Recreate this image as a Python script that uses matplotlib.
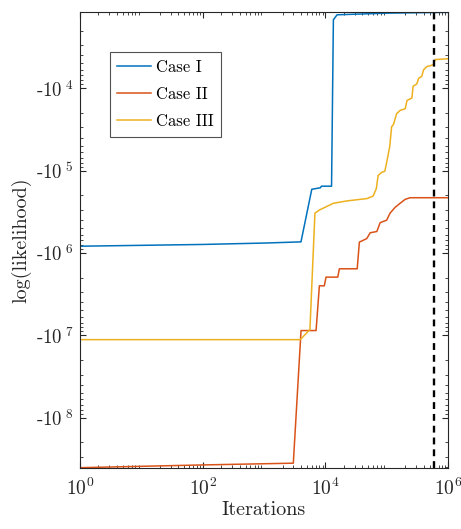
import numpy as np
import matplotlib
matplotlib.use("Agg")
import matplotlib.pyplot as plt
from matplotlib.ticker import FixedLocator, FixedFormatter, LogLocator, NullFormatter

plt.rcParams['font.family'] = 'serif'
plt.rcParams['font.serif'] = ['cmr10', 'DejaVu Serif']
plt.rcParams['mathtext.fontset'] = 'cm'
plt.rcParams['axes.unicode_minus'] = False

# ---- data ----
case1_iter = [1, 100, 1000, 4000, 6000, 8300, 8600, 12600, 13500, 15500, 1e5, 3e5, 1e6]
case1_ll = [-8.3e5, -7.9e5, -7.6e5, -7.35e5, -1.69e5, -1.62e5, -1.55e5, -1.55e5,
            -1479, -1288, -1230, -1216, -1202]

case2_iter = [1, 100, 3000, 4010, 7050, 7980, 9600, 10240, 15900, 16900, 33000, 35800,
              47300, 53700, 69000, 78000, 1.0e5, 1.13e5, 1.37e5, 1.65e5, 2.0e5, 2.4e5, 1e6]
case2_ll = [-4.05e8, -3.75e8, -3.57e8, -8.77e6, -8.77e6, -2.51e6, -2.51e6, -1.97e6,
            -1.97e6, -1.56e6, -1.56e6, -7.4e5, -6.7e5, -5.7e5, -5.5e5, -4.3e5, -4.0e5,
            -3.3e5, -2.8e5, -2.5e5, -2.24e5, -2.14e5, -2.14e5]

case3_iter = [1, 3900, 5600, 6750, 8100, 13500, 22400, 47900, 60000, 67600, 72400, 83000,
              93000, 1.0e5, 1.12e5, 1.2e5, 1.29e5, 1.45e5, 1.66e5, 2.0e5, 2.14e5, 2.57e5,
              2.69e5, 3.09e5, 3.31e5, 3.72e5, 3.98e5, 4.47e5, 5.75e5, 6.17e5, 1e6]
case3_ll = [-1.13e7, -1.13e7, -8.5e6, -3.3e5, -3.0e5, -2.5e5, -2.34e5, -2.19e5, -2.04e5,
            -1.66e5, -1.15e5, -1.05e5, -1.02e5, -7.9e4, -5.1e4, -2.95e4, -2.75e4, -2.04e4,
            -1.86e4, -1.78e4, -1.41e4, -1.32e4, -9.5e3, -8.9e3, -7.6e3, -7.2e3, -6.0e3,
            -5.5e3, -5.2e3, -4.5e3, -4.4e3]

stop_iter = 6e5
labels = ['Case I', 'Case II', 'Case III']
colors = ['#0072BD', '#D95319', '#EDB120']
ytick_exps = [4, 5, 6, 7, 8]
xtick_exps = [0, 2, 4, 6]

fig = plt.figure(figsize=(4.61, 5.29), dpi=100)
ax = fig.add_axes([0.1735, 0.1159, 0.7985, 0.8608])

series = [(case1_iter, case1_ll), (case2_iter, case2_ll), (case3_iter, case3_ll)]
for (it, ll), c, lab in zip(series, colors, labels):
    ax.plot(it, -np.array(ll), color=c, lw=1.1, label=lab)

ax.axvline(stop_iter, color='black', lw=1.7, ls=(0, (2.9, 2.1)))

ax.set_xscale('log')
ax.set_yscale('log')
ax.set_xlim(1, 1e6)
ax.set_ylim(4.05e8, 1202)

ax.yaxis.set_major_locator(FixedLocator([10.0 ** e for e in ytick_exps]))
ax.yaxis.set_major_formatter(FixedFormatter([r'-$10^{\;%d}$' % e for e in ytick_exps]))
ax.yaxis.set_minor_locator(LogLocator(base=10, subs=np.arange(2, 10), numticks=20))
ax.yaxis.set_minor_formatter(NullFormatter())

ax.xaxis.set_major_locator(FixedLocator([10.0 ** e for e in xtick_exps]))
ax.xaxis.set_major_formatter(FixedFormatter([r'$10^{%d}$' % e for e in xtick_exps]))
ax.xaxis.set_minor_locator(LogLocator(base=10, subs=np.arange(2, 10), numticks=20))
ax.xaxis.set_minor_formatter(NullFormatter())

dark = '#262626'
for s in ax.spines.values():
    s.set_color(dark)
    s.set_linewidth(0.8)
ax.tick_params(which='both', direction='in', top=True, right=True, colors=dark,
               labelcolor=dark)
ax.tick_params(which='major', length=4, width=0.8)
ax.tick_params(axis='y', which='major', labelsize=13.5, pad=5)
ax.tick_params(axis='x', which='major', labelsize=14, pad=7)
ax.tick_params(which='minor', length=2.5, width=0.6)

ax.set_xlabel('Iterations', fontsize=14.5, color=dark, labelpad=2)
ax.set_ylabel('log(likelihood)', fontsize=14.5, color=dark, labelpad=3)

leg = ax.legend(loc='upper left', bbox_to_anchor=(0.0815, 0.912), fontsize=12,
                frameon=True, fancybox=False, edgecolor=dark, handlelength=2.0,
                borderpad=0.45, labelspacing=0.7, handletextpad=0.3, borderaxespad=0)
leg.get_frame().set_linewidth(0.8)

fig.savefig('out.png', dpi=100)
